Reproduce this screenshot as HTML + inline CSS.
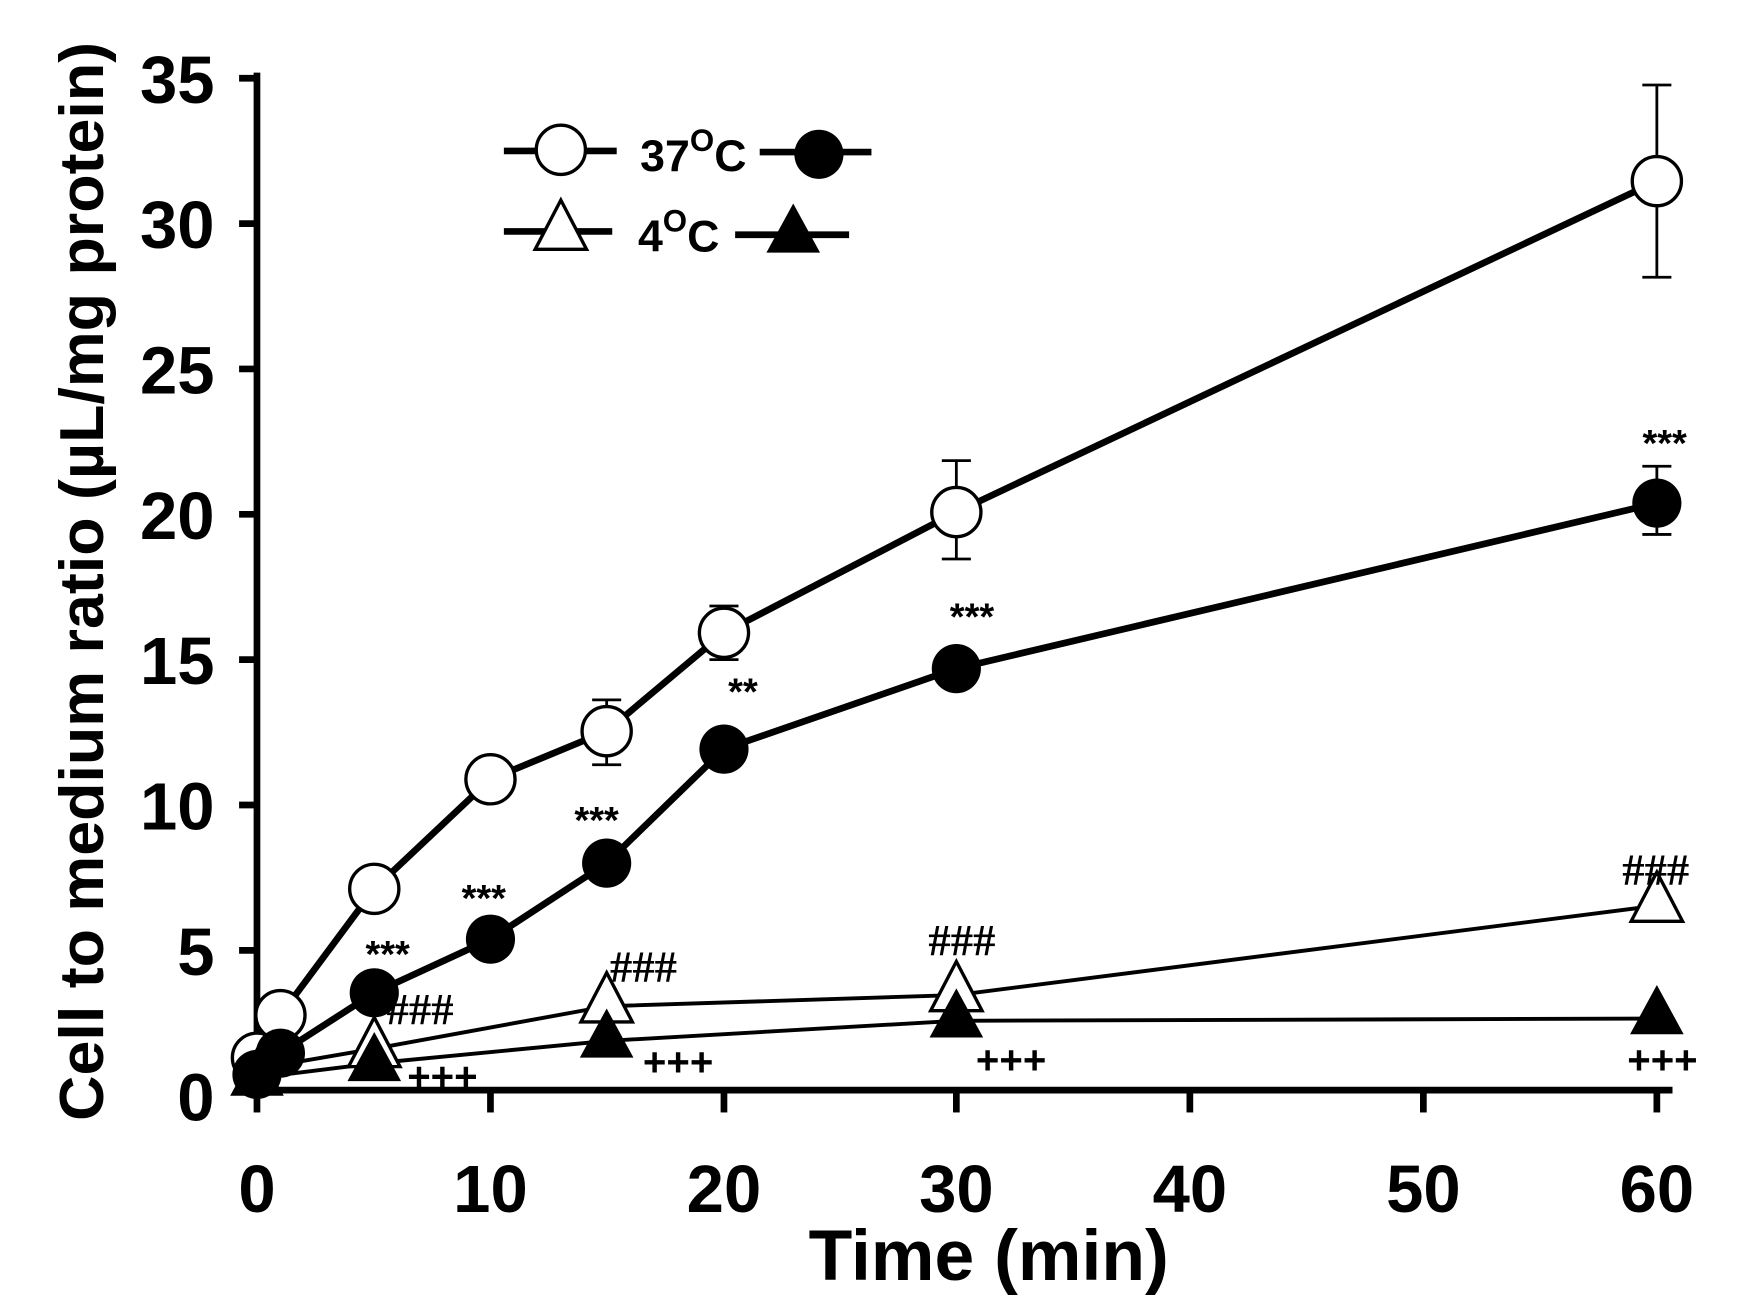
<!DOCTYPE html>
<html><head><meta charset="utf-8"><style>html,body{margin:0;padding:0;background:#fff}svg{display:block}</style></head>
<body>
<svg width="1744" height="1307" viewBox="0 0 1561 1169" preserveAspectRatio="none" xmlns="http://www.w3.org/2000/svg" font-family="Liberation Sans, Arial, sans-serif">
<defs>
<circle id="oc" r="22" fill="#fff" stroke="#000" stroke-width="3"/>
<circle id="fc" r="22" fill="#000"/>
<polygon id="ot" points="0,-24 23,20 -23,20" fill="#fff" stroke="#000" stroke-width="3"/>
<polygon id="ft" points="0,-24 24,20 -24,20" fill="#000"/>
</defs>
<g stroke="#000" stroke-width="6" fill="none">
<line x1="230" y1="65" x2="230" y2="978"/>
<line x1="213" y1="975" x2="1497" y2="975"/>
<line x1="214" y1="70" x2="230" y2="70"/>
<line x1="214" y1="200" x2="230" y2="200"/>
<line x1="214" y1="330" x2="230" y2="330"/>
<line x1="214" y1="460" x2="230" y2="460"/>
<line x1="214" y1="590" x2="230" y2="590"/>
<line x1="214" y1="720" x2="230" y2="720"/>
<line x1="214" y1="850" x2="230" y2="850"/>
<line x1="230" y1="975" x2="230" y2="995"/>
<line x1="439" y1="975" x2="439" y2="995"/>
<line x1="648" y1="975" x2="648" y2="995"/>
<line x1="856" y1="975" x2="856" y2="995"/>
<line x1="1065" y1="975" x2="1065" y2="995"/>
<line x1="1274" y1="975" x2="1274" y2="995"/>
<line x1="1483" y1="975" x2="1483" y2="995"/>
</g>
<g font-size="60" font-weight="bold" text-anchor="end">
<text x="192" y="92">35</text><text x="192" y="222">30</text><text x="192" y="352">25</text>
<text x="192" y="482">20</text><text x="192" y="612">15</text><text x="192" y="742">10</text>
<text x="192" y="872">5</text><text x="192" y="1002">0</text>
</g>
<g font-size="60" font-weight="bold" text-anchor="middle">
<text x="230" y="1084">0</text><text x="439" y="1084">10</text><text x="648" y="1084">20</text>
<text x="856" y="1084">30</text><text x="1065" y="1084">40</text><text x="1274" y="1084">50</text>
<text x="1483" y="1084">60</text>
</g>
<text x="885" y="1145" font-size="64" font-weight="bold" text-anchor="middle">Time (min)</text>
<text transform="translate(92,520) rotate(-90)" font-size="56" font-weight="bold" text-anchor="middle" textLength="965" lengthAdjust="spacingAndGlyphs">Cell to medium ratio (µL/mg protein)</text>
<g stroke="#000" stroke-width="2.5">
<line x1="1483" y1="76" x2="1483" y2="248"/><line x1="1470" y1="76" x2="1496" y2="76"/><line x1="1470" y1="248" x2="1496" y2="248"/>
<line x1="856" y1="412" x2="856" y2="500"/><line x1="843" y1="412" x2="869" y2="412"/><line x1="843" y1="500" x2="869" y2="500"/>
<line x1="648" y1="542" x2="648" y2="590"/><line x1="635" y1="542" x2="661" y2="542"/><line x1="635" y1="590" x2="661" y2="590"/>
<line x1="543" y1="626" x2="543" y2="684"/><line x1="530" y1="626" x2="556" y2="626"/><line x1="530" y1="684" x2="556" y2="684"/>
<line x1="1483" y1="417" x2="1483" y2="478"/><line x1="1470" y1="417" x2="1496" y2="417"/><line x1="1470" y1="478" x2="1496" y2="478"/>
</g>
<g fill="none" stroke="#000" stroke-linejoin="round">
<polyline stroke-width="6" points="230,946 251,908 335,795 439,697 543,654 648,566 856,458 1483,162"/>
<polyline stroke-width="6" points="230,961 251,942 335,888 439,840 543,772 648,670 856,598 1483,450"/>
<polyline stroke-width="3.5" points="230,956 335,938 543,900 856,890 1483,810"/>
<polyline stroke-width="3.5" points="230,964 335,951 543,931 856,913 1483,911"/>
</g>
<use href="#oc" x="1483" y="162"/><use href="#oc" x="856" y="458"/><use href="#oc" x="648" y="566"/>
<use href="#oc" x="543" y="654"/><use href="#oc" x="439" y="697"/><use href="#oc" x="335" y="795"/>
<use href="#oc" x="251" y="908"/><use href="#oc" x="230" y="946"/>
<use href="#fc" x="1483" y="450"/><use href="#fc" x="856" y="598"/><use href="#fc" x="648" y="670"/>
<use href="#fc" x="543" y="772"/><use href="#fc" x="439" y="840"/><use href="#fc" x="335" y="888"/>
<use href="#fc" x="251" y="942"/><use href="#fc" x="230" y="961"/>
<use href="#ot" x="1483" y="804"/><use href="#ot" x="856" y="884"/><use href="#ot" x="543" y="894"/><use href="#ot" x="335" y="934"/>
<use href="#ft" x="1483" y="905"/><use href="#ft" x="856" y="908"/><use href="#ft" x="543" y="926"/><use href="#ft" x="335" y="947"/><use href="#ft" x="230" y="960"/>
<g font-size="34" font-weight="bold" text-anchor="middle">
<text x="347" y="865">***</text><text x="433" y="815">***</text><text x="534" y="745">***</text>
<text x="665" y="630">**</text><text x="870" y="563">***</text><text x="1490" y="408">***</text>
</g>
<g font-size="40" font-family="Liberation Serif, serif" font-weight="bold" text-anchor="middle">
<text x="376" y="916">###</text><text x="576" y="878">###</text><text x="861" y="854">###</text><text x="1482" y="791">###</text>
</g>
<g font-size="36" font-weight="bold" text-anchor="middle">
<text x="396" y="975">+++</text><text x="607" y="962">+++</text><text x="905" y="960">+++</text><text x="1488" y="960">+++</text>
</g>
<g stroke="#000" stroke-width="6">
<line x1="451" y1="135" x2="552" y2="135"/>
<line x1="680" y1="136" x2="780" y2="136"/>
<line x1="451" y1="207" x2="548" y2="207"/>
<line x1="658" y1="210" x2="760" y2="210"/>
</g>
<use href="#oc" x="502" y="134"/>
<use href="#fc" x="733" y="138"/>
<use href="#ot" x="502" y="203"/>
<use href="#ft" x="710" y="206"/>
<text x="573" y="153" font-size="40" font-weight="bold">37<tspan font-size="28" dy="-18">O</tspan><tspan dy="18">C</tspan></text>
<text x="571" y="225" font-size="40" font-weight="bold">4<tspan font-size="28" dy="-18">O</tspan><tspan dy="18">C</tspan></text>
</svg>
</body></html>
